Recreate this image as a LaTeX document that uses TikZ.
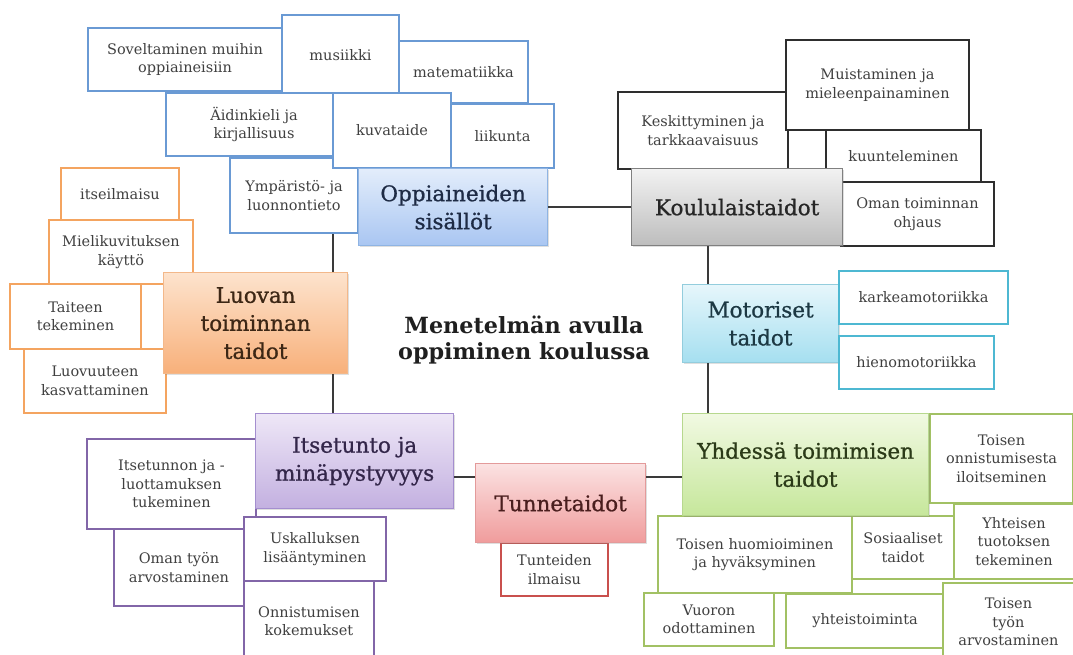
\documentclass[tikz,border=0pt]{standalone}
\usepackage{fontspec}
\setmainfont{DejaVu Serif}
\newfontfamily\heavyfont{DejaVu Serif}[RawFeature={embolden=0.9}]
\usetikzlibrary{shadows}
\definecolor{blB}{HTML}{6A9AD4}
\definecolor{blT}{HTML}{E3EDFB}
\definecolor{blM}{HTML}{A9C6F2}
\definecolor{blE}{HTML}{8FB4E3}
\definecolor{blX}{HTML}{1E2B45}
\definecolor{grB}{HTML}{2E2E2E}
\definecolor{grT}{HTML}{F2F2F2}
\definecolor{grM}{HTML}{BDBDBD}
\definecolor{grE}{HTML}{808080}
\definecolor{grX}{HTML}{262626}
\definecolor{orB}{HTML}{F4A460}
\definecolor{orT}{HTML}{FDE3CD}
\definecolor{orM}{HTML}{F8B07A}
\definecolor{orE}{HTML}{F3B88A}
\definecolor{orX}{HTML}{3D2715}
\definecolor{cyB}{HTML}{4DB8D2}
\definecolor{cyT}{HTML}{E6F6FB}
\definecolor{cyM}{HTML}{A5DFF0}
\definecolor{cyE}{HTML}{93CDDD}
\definecolor{cyX}{HTML}{1C3843}
\definecolor{puB}{HTML}{8266A8}
\definecolor{puT}{HTML}{EEE7F7}
\definecolor{puM}{HTML}{C3B0E0}
\definecolor{puE}{HTML}{A48ECF}
\definecolor{puX}{HTML}{33264A}
\definecolor{reB}{HTML}{C9504D}
\definecolor{reT}{HTML}{FBE2E2}
\definecolor{reM}{HTML}{F09C9C}
\definecolor{reE}{HTML}{E39A9A}
\definecolor{reX}{HTML}{4A1E1E}
\definecolor{gnB}{HTML}{A2C164}
\definecolor{gnT}{HTML}{F1F9E2}
\definecolor{gnM}{HTML}{C6E79B}
\definecolor{gnE}{HTML}{B7D88E}
\definecolor{gnX}{HTML}{2B3A18}
\definecolor{lineC}{HTML}{3A3A3A}
\definecolor{smallX}{HTML}{404040}
\begin{document}
\begin{tikzpicture}[x=1pt,y=-1pt,
  sz/.style 2 args={minimum width=#1pt, minimum height=#2pt},
  sbox/.style={draw=#1, line width=2pt, fill=white, align=center, inner sep=2pt,
    anchor=north west, text=smallX, font=\fontsize{14.5}{18.5}\selectfont,
    drop shadow={opacity=0.18, shadow xshift=1.2pt, shadow yshift=-1.2pt}},
  mbox/.style n args={4}{draw=#3, line width=1.3pt, top color=#1, bottom color=#2,
    align=center, inner sep=2pt, anchor=north west, text=#4,
    font=\heavyfont\fontsize{21.5}{28}\selectfont,
    drop shadow={opacity=0.25, shadow xshift=1.5pt, shadow yshift=-1.5pt}},
  conn/.style={draw=lineC, line width=2.6pt}
]
\fill[white] (0,0) rectangle (1073,655);
\clip (0,0) rectangle (1073,655);
% helper coordinates for connector lines
\coordinate (vl) at (333,0);
\coordinate (vr) at (708,0);
\coordinate (hl) at (0,477);

% ---- Oppiaineiden sisällöt group
\node[sbox=blB, sz={194}{63}] (sov) at (87,27) {Soveltaminen muihin\\oppiaineisiin};
\node[sbox=blB, sz={117}{80}] (mus) at (281,14) {musiikki};
\node[sbox=blB, sz={129}{62}] (mat) at (398,40) {matematiikka};
\node[sbox=blB, sz={128}{75}] (ymp) at (229,157) {Ympäristö- ja\\luonnontieto};
\node[sbox=blB, sz={176}{63}] (aid) at (165,92) {Äidinkieli ja\\kirjallisuus};
\node[sbox=blB, sz={118}{75}] (kuv) at (332,92) {kuvataide};
\node[sbox=blB, sz={103}{64}] (lii) at (450,103) {liikunta};
\node[mbox={blT}{blM}{blE}{blX}, sz={189}{77}] (opp) at (358,168) {Oppiaineiden\\sisällöt};

% ---- Koululaistaidot group
\node[sbox=grB, sz={170}{77}] (kes) at (617,91) {Keskittyminen ja\\tarkkaavaisuus};
\node[sbox=grB, sz={183}{90}] (mui) at (785,39) {Muistaminen ja\\mieleenpainaminen};
\node[sbox=grB, sz={155}{53}] (kuu) at (825,129) {kuunteleminen};
\node[sbox=grB, sz={153}{64}] (oma) at (840,181) {Oman toiminnan\\ohjaus};
\node[mbox={grT}{grM}{grE}{grX}, sz={211}{77}] (kou) at (631,168) {Koululaistaidot};

% ---- Luovan toiminnan taidot group
\node[sbox=orB, sz={118}{53}] (its) at (60,167) {itseilmaisu};
\node[sbox=orB, sz={144}{64}] (mie) at (48,219) {Mielikuvituksen\\käyttö};
\node[sbox=orB, sz={131}{65}] (tai) at (9,283) {Taiteen\\tekeminen};
\node[sbox=orB, sz={142}{64}] (luv) at (23,348) {Luovuuteen\\kasvattaminen};
\node[mbox={orT}{orM}{orE}{orX}, sz={184}{101}] (luo) at (163,272) {Luovan\\toiminnan\\taidot};

% ---- Motoriset taidot group
\node[mbox={cyT}{cyM}{cyE}{cyX}, sz={156}{78}] (mot) at (682,284) {Motoriset\\taidot};
\node[sbox=cyB, sz={169}{53}] (kar) at (838,270) {karkeamotoriikka};
\node[sbox=cyB, sz={155}{53}] (hie) at (838,335) {hienomotoriikka};

% ---- Itsetunto group
\node[sbox=puB, sz={169}{90}] (itn) at (86,438) {Itsetunnon ja -\\luottamuksen\\tukeminen};
\node[sbox=puB, sz={130}{77}] (omt) at (113,528) {Oman työn\\arvostaminen};
\node[sbox=puB, sz={130}{80}] (onn) at (243,580) {Onnistumisen\\kokemukset};
\node[sbox=puB, sz={142}{64}] (usk) at (243,516) {Uskalluksen\\lisääntyminen};
\node[mbox={puT}{puM}{puE}{puX}, sz={198}{95}] (itse) at (255,413) {Itsetunto ja\\minäpystyvyys};

% ---- Tunnetaidot group
\node[sbox=reB, sz={107}{53}] (tui) at (500,542) {Tunteiden\\ilmaisu};
\node[mbox={reT}{reM}{reE}{reX}, sz={170}{79}] (tun) at (475,463) {Tunnetaidot};

% ---- Yhdessä toimimisen taidot group
\node[sbox=gnB, sz={143}{89}] (ton) at (929,413) {Toisen\\onnistumisesta\\iloitseminen};
\node[sbox=gnB, sz={120}{75}] (yht) at (953,503) {Yhteisen\\tuotoksen\\tekeminen};
\node[sbox=gnB, sz={102}{63}] (sos) at (851,515) {Sosiaaliset\\taidot};
\node[sbox=gnB, sz={194}{77}] (thu) at (657,515) {Toisen huomioiminen\\ja hyväksyminen};
\node[sbox=gnB, sz={130}{53}] (vuo) at (643,592) {Vuoron\\odottaminen};
\node[sbox=gnB, sz={158}{54}] (yto) at (785,593) {yhteistoiminta};
\node[sbox=gnB, sz={131}{78}] (tty) at (942,582) {Toisen\\työn\\arvostaminen};
\node[mbox={gnT}{gnM}{gnE}{gnX}, sz={246}{102}] (yhd) at (682,413) {Yhdessä toimimisen\\taidot};

% ---- Title
\node[align=center, font=\bfseries\fontsize{22.3}{26.5}\selectfont, text=black!88] (title) at (524,340) {Menetelmän avulla\\oppiminen koulussa};

% ---- Connectors
\draw[conn] (opp.east) -- (kou.west);
\draw[conn] (vr |- kou.south) -- (vr |- mot.north);
\draw[conn] (vr |- mot.south) -- (vr |- yhd.north);
\draw[conn] (yhd.west |- hl) -- (tun.east |- hl);
\draw[conn] (tun.west |- hl) -- (itse.east |- hl);
\draw[conn] (vl |- itse.north) -- (vl |- luo.south);
\draw[conn] (vl |- luo.north) -- (vl |- ymp.south);
\end{tikzpicture}
\end{document}
